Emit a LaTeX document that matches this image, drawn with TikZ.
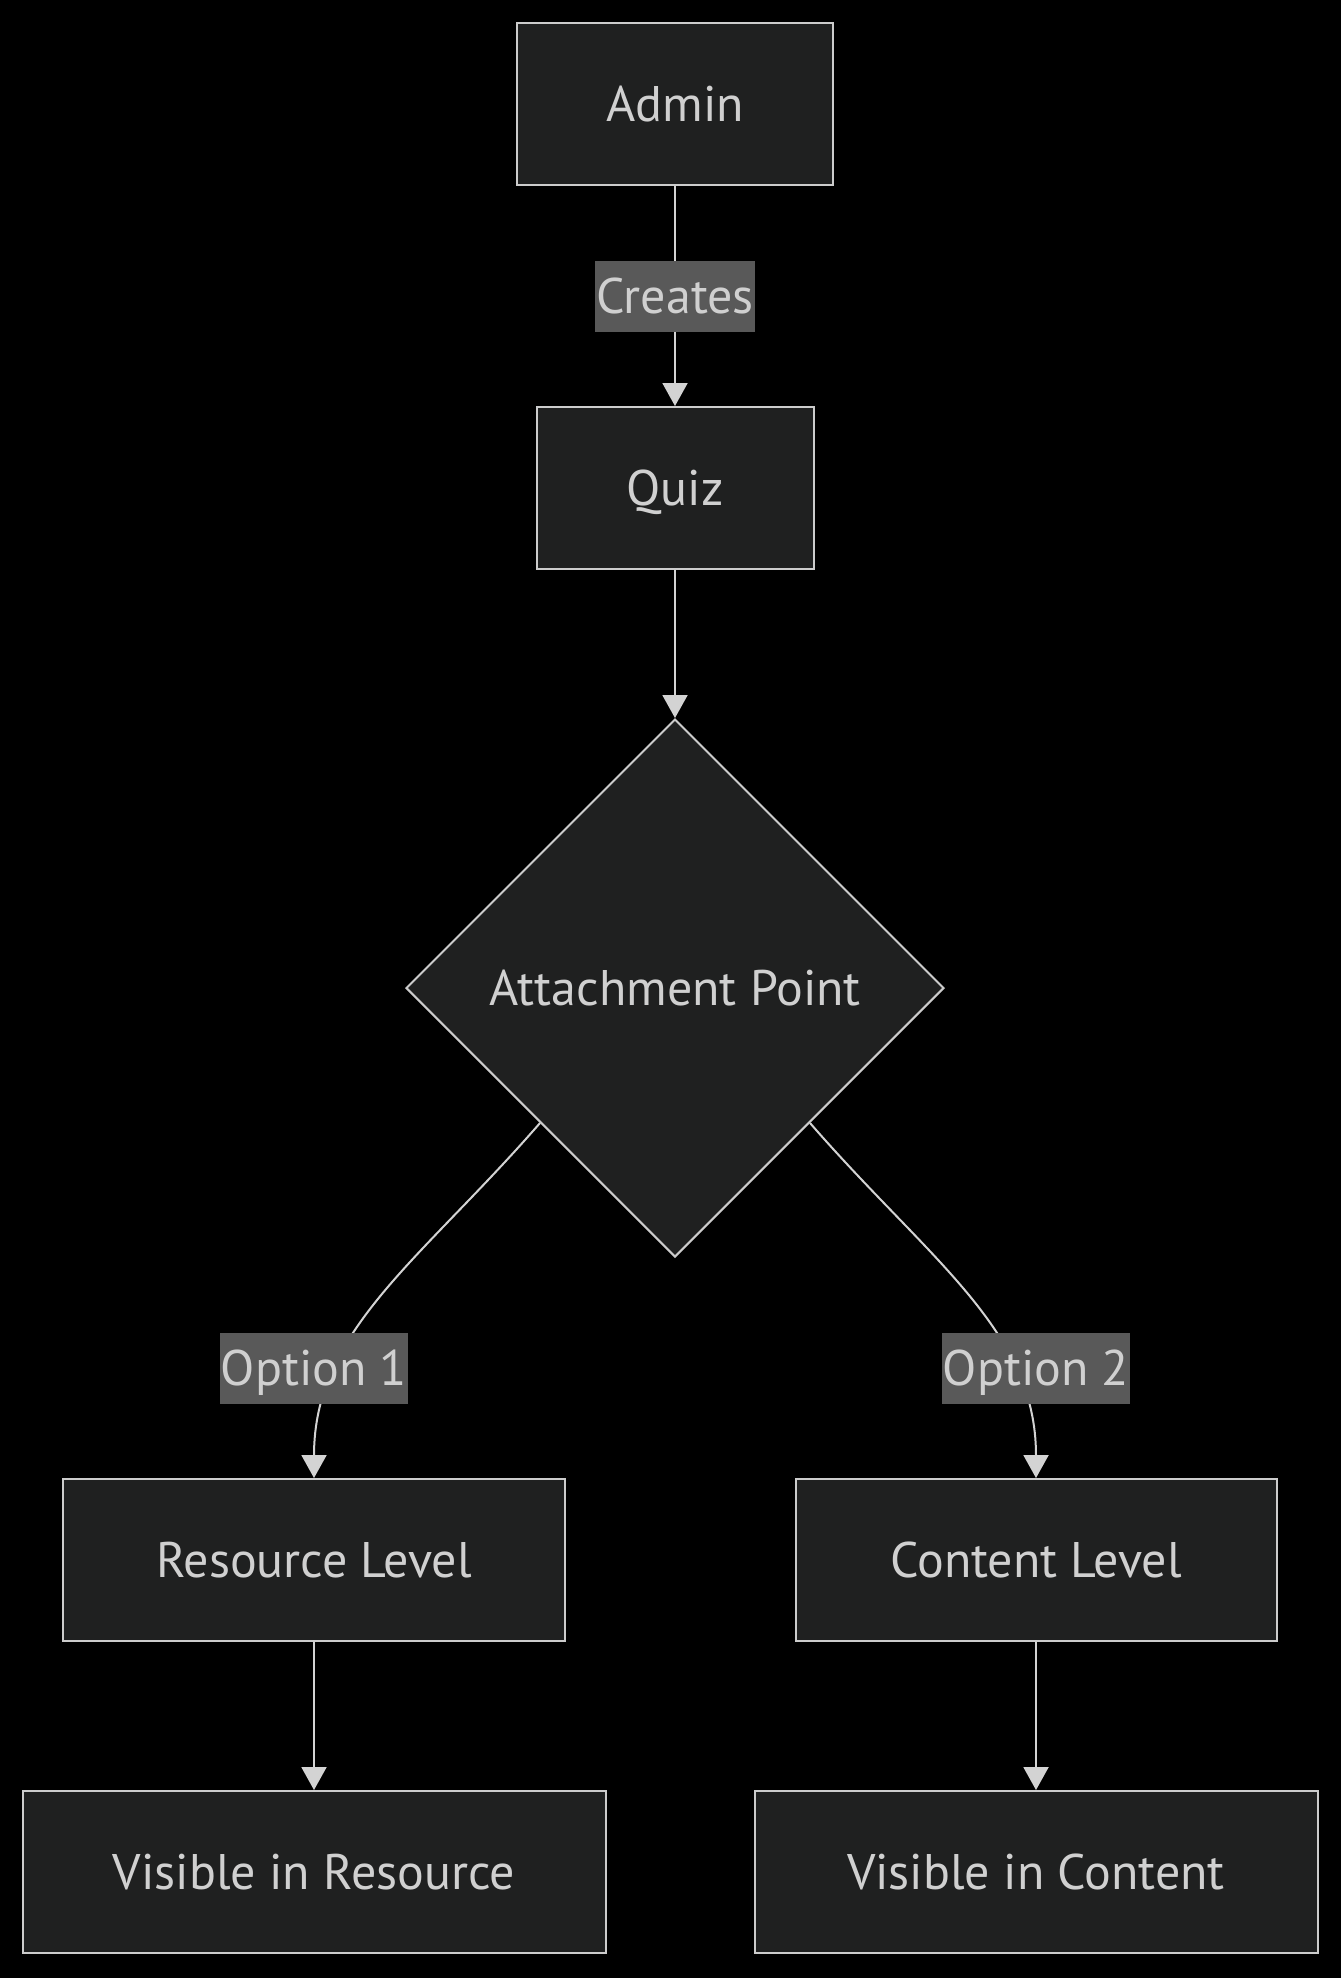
\documentclass[tikz,border=0pt]{standalone}
\usepackage{fontspec}
\setmainfont{PT Sans}
\usetikzlibrary{shapes.geometric,arrows.meta,positioning}
\definecolor{nodefill}{HTML}{1F2020}
\definecolor{nodeline}{HTML}{CCCCCC}
\definecolor{textgray}{HTML}{D0D0D0}
\definecolor{labelfill}{HTML}{595959}
\definecolor{linkgray}{HTML}{D3D3D3}

\begin{document}
\begin{tikzpicture}[x=1pt,y=-1pt,on grid,
   font=\fontsize{50}{60}\selectfont,
   box/.style={draw=nodeline,line width=2pt,fill=nodefill,text=textgray,
     minimum height=162pt,inner sep=0pt,text height=35pt,text depth=0pt},
   choice/.style={diamond,draw=nodeline,line width=2pt,fill=nodefill,text=textgray,
     minimum width=538pt,minimum height=538pt,inner sep=0pt,text height=35pt,text depth=0pt},
   lbl/.style={fill=labelfill,text=textgray,minimum height=71pt,inner xsep=1pt,
     inner ysep=0pt,text height=35pt,text depth=0pt},
   link/.style={draw=linkgray,line width=2pt,-{Triangle[length=23pt,width=25pt,fill=linkgray]}}]
   \useasboundingbox[fill=black] (0,0) rectangle (1341,1978);

   \node[box, minimum width=316pt] (admin) at (675,104) {Admin};
   \node[box, minimum width=277pt] (quiz) [below=384pt of admin] {Quiz};
   \node[choice] (point) [below=500pt of quiz] {Attachment Point};
   \node[box, minimum width=502pt] (resource) [below left=572pt and 361pt of point] {Resource Level};
   \node[box, minimum width=481pt] (content) [below right=572pt and 361pt of point] {Content Level};
   \node[box, minimum width=583pt] (visres) [below=312pt of resource] {Visible in Resource};
   \node[box, minimum width=563pt] (viscon) [below=312pt of content] {Visible in Content};

   \path
    (admin) edge[link] node[lbl] {Creates} (quiz)
    (quiz) edge[link] (point)
    (resource) edge[link] (visres)
    (content) edge[link] (viscon);
   \draw[link] (point.south west) .. controls +(-120,138) and +(0,-148) .. (resource.north);
   \draw[link] (point.south east) .. controls +(120,138) and +(0,-148) .. (content.north);

   \node[lbl] (opt1) [above=192pt of resource] {Option 1};
   \node[lbl] (opt2) [above=192pt of content] {Option 2};
\end{tikzpicture}
\end{document}
